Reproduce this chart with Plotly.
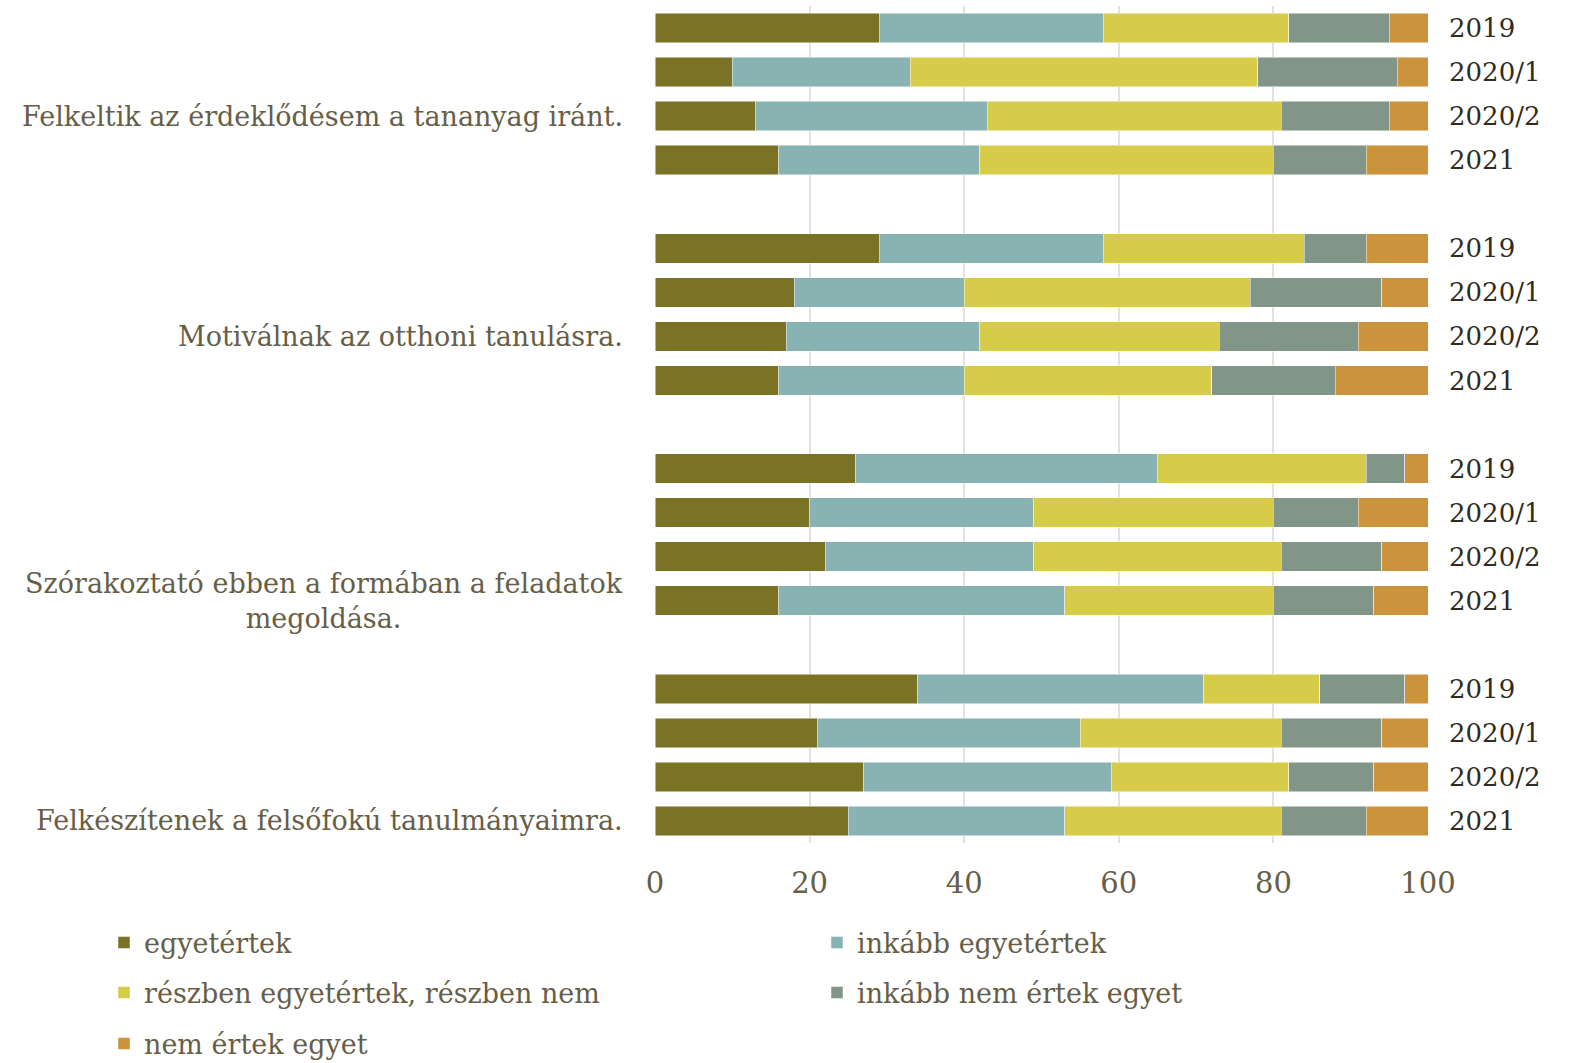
import plotly.graph_objects as go

# ---- data ----
groups = [
    "Felkeltik az érdeklődésem a tananyag iránt.",
    "Motiválnak az otthoni tanulásra.",
    "Szórakoztató ebben a formában a feladatok<br>megoldása.",
    "Felkészítenek a felsőfokú tanulmányaimra.",
]
years = ["2019", "2020/1", "2020/2", "2021"]

series_names = [
    "egyetértek",
    "inkább egyetértek",
    "részben egyetértek, részben nem",
    "inkább nem értek egyet",
    "nem értek egyet",
]
# rows: group1 (2019, 2020/1, 2020/2, 2021), group2 ..., group3 ..., group4 ...
egyetertek = [29, 10, 13, 16, 29, 18, 17, 16, 26, 20, 22, 16, 34, 21, 27, 25]
inkabb_egyetertek = [29, 23, 30, 26, 29, 22, 25, 24, 39, 29, 27, 37, 37, 34, 32, 28]
reszben = [24, 45, 38, 38, 26, 37, 31, 32, 27, 31, 32, 27, 15, 26, 23, 28]
inkabb_nem = [13, 18, 14, 12, 8, 17, 18, 16, 5, 11, 13, 13, 11, 13, 11, 11]
nem_ertek = [5, 4, 5, 8, 8, 6, 9, 12, 3, 9, 6, 7, 3, 6, 7, 8]

x_ticks = [0, 20, 40, 60, 80, 100]

# ---- styles ----
colors = ["#7a7326", "#88b3b2", "#d6cc4a", "#829589", "#cc933d"]
label_row = [2, 2, 3, 3]        # row within group where the group label sits
text_color = "#675e48"
year_color = "#2f2c22"
FONT = "DejaVu Serif"

# positions: one empty slot between groups
slot = len(years) + 1
positions = [g * slot + i for g in range(len(groups)) for i in range(len(years))]
ticktext = [y for _ in groups for y in years]

all_values = [egyetertek, inkabb_egyetertek, reszben, inkabb_nem, nem_ertek]
legend_ids = ["legend", "legend", "legend2", "legend2", "legend3"]

fig = go.Figure()
for name, vals, col, lg in zip(series_names, all_values, colors, legend_ids):
    fig.add_trace(go.Bar(
        x=vals, y=positions, orientation="h", name=name,
        marker=dict(color=col, line=dict(color="rgba(255,255,255,0.6)", width=0.8)),
        width=0.67, legend=lg,
    ))

for g, lab in enumerate(groups):
    fig.add_annotation(
        x=0, xref="paper", y=g * slot + label_row[g], yref="y",
        text=lab, showarrow=False, xanchor="right", yanchor="middle",
        xshift=-30, align="center",
        font=dict(family=FONT, size=27, color=text_color),
    )

W, H = 1580, 1063
ml, mr, mt, mb = 655, 152, 6, 220
ph = H - mt - mb
pw = W - ml - mr

def py(pix):
    return (H - mb - pix) / ph

legend_common = dict(
    orientation="h", xanchor="left", yanchor="middle",
    x=(104 - ml) / pw, entrywidth=668,
    font=dict(family=FONT, size=27, color=text_color),
    bgcolor="rgba(0,0,0,0)", traceorder="normal",
)

fig.update_layout(
    width=W, height=H,
    margin=dict(l=ml, r=mr, t=mt, b=mb, autoexpand=False),
    barmode="stack",
    plot_bgcolor="white", paper_bgcolor="white",
    showlegend=True,
    legend=dict(legend_common, y=py(943)),
    legend2=dict(legend_common, y=py(993)),
    legend3=dict(legend_common, y=py(1044)),
    xaxis=dict(
        range=[0, 100], tickvals=x_ticks, showgrid=True,
        gridcolor="#e3e1d9", gridwidth=2, zeroline=False, showline=False,
        tickfont=dict(family=FONT, size=29, color=text_color),
        ticklabelstandoff=20, fixedrange=True,
    ),
    yaxis=dict(
        range=[len(positions) + len(groups) - 1 - 0.5, -0.5],
        tickvals=positions, ticktext=ticktext, side="right",
        showgrid=False, zeroline=False, showline=False,
        tickfont=dict(family=FONT, size=26, color=year_color),
        ticklabelstandoff=20, fixedrange=True,
    ),
)

fig.write_html("out.html", config={"displayModeBar": False},
               post_script="document.body.style.margin='0';")
